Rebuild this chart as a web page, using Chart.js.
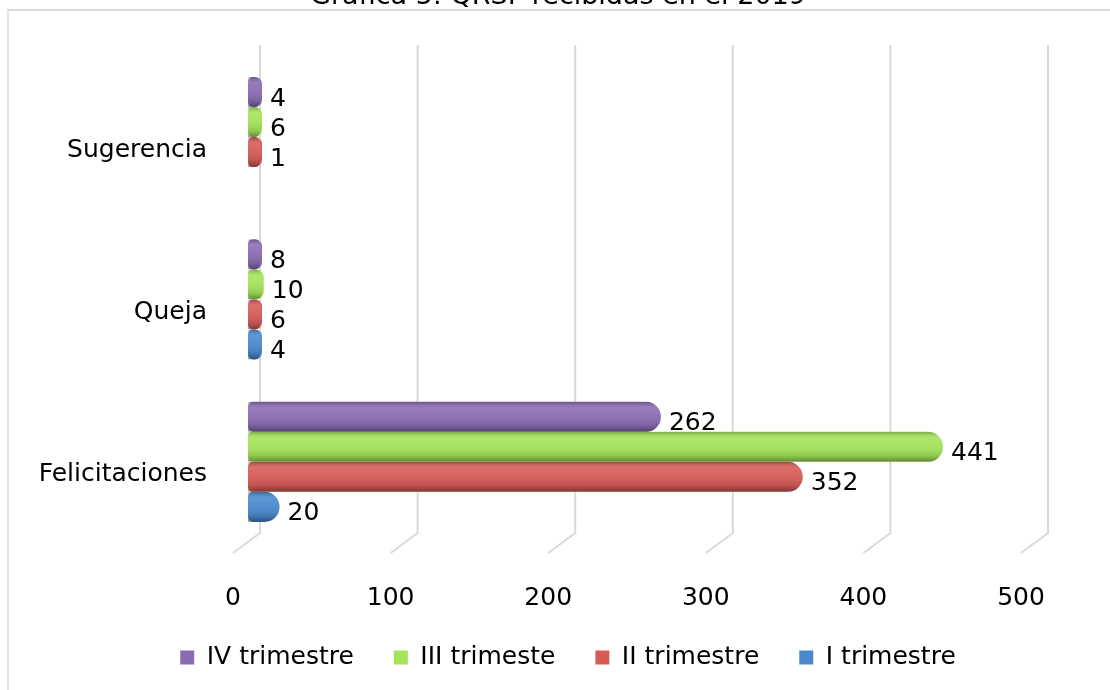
<!DOCTYPE html>
<html>
<head>
<meta charset="utf-8">
<script src="https://cdn.jsdelivr.net/npm/chart.js@4.4.0/dist/chart.umd.min.js"></script>
<style>
  html, body { margin: 0; padding: 0; background: #fff; overflow: hidden; }
  #marco { position: absolute; left: 7px; top: 9px; width: 1200px; height: 800px;
           border-left: 2px solid #e2e2e2; border-top: 2px solid #dcdcdc; }
  #caja { position: absolute; left: 0; top: -30px; width: 1110px; height: 720px; }
</style>
</head>
<body>
<div id="marco"></div>
<div id="caja"><canvas id="grafica"></canvas></div>
<script>
// Datos
const categorias = ['Sugerencia', 'Queja', 'Felicitaciones'];
const series = ['IV trimestre', 'III trimeste', 'II trimestre', 'I trimestre'];
const ivTrimestre = [4, 8, 262];
const iiiTrimestre = [6, 10, 441];
const iiTrimestre = [1, 6, 352];
const iTrimestre = [null, 4, 20];
const ticksX = [0, 100, 200, 300, 400, 500];

const colores = ['#8a6cb2', '#a4e35a', '#d65b57', '#4a89cd'];
const fuente = 'DejaVu Sans';
const tam = 25;

//Rejilla en falso 3D
const rejilla3D = {
    id: 'rejilla3D',
    beforeDatasetsDraw(chart) {
        const ctx = chart.ctx;
        const x = chart.scales.x;
        const area = chart.chartArea;
        ctx.save();
        ctx.strokeStyle = '#d9d9d9';
        ctx.lineWidth = 2;
        ticksX.forEach(v => {
            const px = x.getPixelForValue(v);
            ctx.beginPath();
            ctx.moveTo(px + 12, area.top - 11);
            ctx.lineTo(px + 12, area.bottom - 10);
            ctx.lineTo(px - 15, area.bottom + 10);
            ctx.stroke();
        });
        ctx.restore();
    }
};

//Mover titulo y leyenda hacia la derecha (centrados en el marco)
const centrar = {
    id: 'centrar',
    afterLayout(chart) {
        chart.legend.left += 50;
        chart.legend.right += 50;
        chart.titleBlock.left += 40;
        chart.titleBlock.right += 40;
    }
};

//Brillo de cilindro y etiquetas
const cilindros = {
    id: 'cilindros',
    afterDatasetsDraw(chart) {
        const ctx = chart.ctx;
        chart.data.datasets.forEach((ds, i) => {
            const meta = chart.getDatasetMeta(i);
            meta.data.forEach((bar, j) => {
                if (ds.data[j] === null) return;
                const top = bar.y - bar.height / 2;
                const g = ctx.createLinearGradient(0, top, 0, top + bar.height);
                g.addColorStop(0, 'rgba(0,0,0,0.25)');
                g.addColorStop(0.2, 'rgba(255,255,255,0.12)');
                g.addColorStop(0.45, 'rgba(255,255,255,0.05)');
                g.addColorStop(0.8, 'rgba(0,0,0,0.12)');
                g.addColorStop(1, 'rgba(0,0,0,0.4)');
                ctx.save();
                const r = bar.height / 2;
                const izq = bar.base;
                const der = bar.x;
                const rx = Math.min(r, (der - izq) / 2);
                ctx.beginPath();
                ctx.moveTo(izq, top);
                ctx.lineTo(der - rx, top);
                ctx.ellipse(der - rx, bar.y, rx, r, 0, -Math.PI / 2, Math.PI / 2);
                ctx.lineTo(izq, top + bar.height);
                ctx.closePath();
                ctx.clip();
                ctx.fillStyle = g;
                ctx.fillRect(izq - 5, top, der - izq + 10, bar.height);
                ctx.restore();

                ctx.save();
                ctx.fillStyle = '#000';
                ctx.font = tam + 'px ' + fuente;
                ctx.textBaseline = 'middle';
                ctx.fillText(ds.data[j], bar.x + 8, bar.y + 7);
                ctx.restore();
            });
        });
    }
};

const datos = {
    labels: categorias,
    datasets: [ivTrimestre, iiiTrimestre, iiTrimestre, iTrimestre].map((d, i) => ({
        label: series[i],
        data: d,
        backgroundColor: colores[i],
        borderSkipped: false,
        borderRadius: { topLeft: 5, bottomLeft: 5, topRight: 15, bottomRight: 15 },
        minBarLength: 14
    }))
};

const config = {
    type: 'bar',
    data: datos,
    options: {
        indexAxis: 'y',
        responsive: false,
        animation: false,
        categoryPercentage: 0.74,
        barPercentage: 1.0,
        layout: { padding: { left: 0, right: 74, top: 0, bottom: 10 } },
        scales: {
            x: {
                min: 0,
                max: 500,
                afterBuildTicks: s => { s.ticks = ticksX.map(v => ({ value: v })); },
                afterFit: s => { s.height = 62; },
                grid: { display: false },
                border: { display: false },
                ticks: { font: { family: fuente, size: tam }, color: '#000', padding: 32, labelOffset: -15 }
            },
            y: {
                grid: { display: false },
                border: { display: false },
                afterFit: s => { s.width = 248; },
                ticks: { font: { family: fuente, size: tam }, color: '#000', padding: 33, labelOffset: 13 }
            }
        },
        plugins: {
            title: {
                display: true,
                text: 'Gráfica 5: QRSF recibidas en el 2019',
                color: '#000',
                font: { family: fuente, size: 27, weight: 'normal' },
                padding: { top: 11, bottom: 42.5 }
            },
            legend: {
                position: 'bottom',
                labels: {
                    font: { family: fuente, size: tam },
                    color: '#000',
                    boxWidth: 14,
                    boxHeight: 14,
                    padding: 40
                }
            },
            tooltip: { enabled: false }
        }
    },
    plugins: [rejilla3D, cilindros, centrar]
};

const canvas = document.getElementById('grafica');
canvas.width = 1110;
canvas.height = 720;
new Chart(canvas, config);
</script>
</body>
</html>
